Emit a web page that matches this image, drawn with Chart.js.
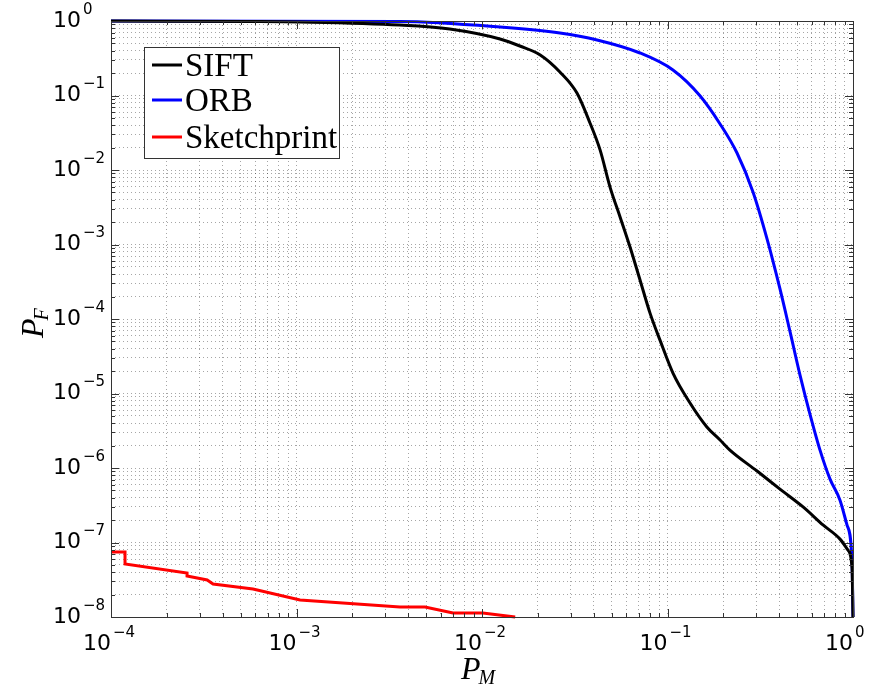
<!DOCTYPE html>
<html>
<head>
<meta charset="utf-8">
<script src="https://cdn.jsdelivr.net/npm/chart.js@4"></script>
<style>
  html, body { margin: 0; padding: 0; background: #fff; }
  #wrap { width: 896px; height: 692px; }
</style>
</head>
<body>
<div id="wrap"><canvas id="rocChart" width="896" height="692"></canvas></div>
<script>
// Axis decades (exponents of 10)
const xExponents = [-4, -3, -2, -1, 0];
const yExponents = [-8, -7, -6, -5, -4, -3, -2, -1, 0];

// Series names and colours
const seriesLabels = ["SIFT", "ORB", "Sketchprint"];
const seriesColors = ["#000000", "#0000ff", "#ff0000"];

// SIFT curve (P_M, P_F)
const siftX = [1e-4, 5.6e-4, 1.05e-3, 3.6e-3, 6.7e-3, 0.0125, 0.016, 0.0206, 0.0263, 0.0325, 0.0382, 0.0433, 0.049, 0.0555, 0.0628, 0.0711, 0.0805, 0.0911, 0.107, 0.132, 0.163, 0.192, 0.217, 0.304, 0.404, 0.538, 0.689, 0.851, 0.94, 0.988, 1.0];
const siftY = [1.0, 0.985, 0.97, 0.884, 0.78, 0.573, 0.462, 0.35, 0.207, 0.108, 0.0428, 0.0186, 5.9e-3, 2.34e-3, 9.25e-4, 3.34e-4, 1.2e-4, 5.2e-5, 1.88e-5, 7.5e-6, 3.55e-6, 2.38e-6, 1.74e-6, 9.1e-7, 5.2e-7, 3.0e-7, 1.72e-7, 1.11e-7, 7.9e-8, 4.55e-8, 1e-8];

// ORB curve
const orbX = [1e-4, 3.6e-3, 0.0125, 0.0263, 0.0417, 0.0711, 0.107, 0.15, 0.192, 0.237, 0.289, 0.344, 0.404, 0.458, 0.518, 0.586, 0.664, 0.752, 0.851, 0.928, 0.988, 1.0];
const orbY = [1.0, 0.985, 0.83, 0.69, 0.556, 0.372, 0.22, 0.0985, 0.0415, 0.0169, 5.07e-3, 1.19e-3, 2.53e-4, 6.7e-5, 1.77e-5, 5.3e-6, 1.74e-6, 7.1e-7, 3.7e-7, 1.72e-7, 5.6e-8, 1e-8];

// Sketchprint curve (stepped)
const sketchX = [1e-4, 1.19e-4, 1.19e-4, 2.57e-4, 2.57e-4, 3.3e-4, 3.55e-4, 5.83e-4, 1.045e-3, 3.61e-3, 4.93e-3, 6.98e-3, 0.0101, 0.0151];
const sketchY = [7.45e-8, 7.45e-8, 5.14e-8, 3.9e-8, 3.55e-8, 3.14e-8, 2.77e-8, 2.38e-8, 1.69e-8, 1.36e-8, 1.36e-8, 1.13e-8, 1.13e-8, 1e-8];

function toPoints(xs, ys) {
	let pts = [];
	for (let i = 0; i < xs.length; i++) {
		pts.push({ x: xs[i], y: ys[i] });
	}
	return pts;
}

// log ticks: 1..9 x 10^e for each decade, plus the last decade
function decadeTicks(exps) {
	let ticks = [];
	for (let i = 0; i < exps.length - 1; i++) {
		for (let m = 1; m <= 9; m++) {
			ticks.push({ value: m * Math.pow(10, exps[i]), major: m === 1 });
		}
	}
	ticks.push({ value: Math.pow(10, exps[exps.length - 1]), major: true });
	return ticks;
}

function expText(e) {
	return e < 0 ? "\u2212" + Math.abs(e) : String(e);
}

// Box, inward ticks, tick labels, legend and axis titles
const matlabLook = {
	id: "matlabLook",
	afterDraw(chart) {
		const ctx = chart.ctx;
		const area = chart.chartArea;
		const xs = chart.scales.x;
		const ys = chart.scales.y;
		ctx.save();

		// inward tick marks on all four sides
		ctx.strokeStyle = "#333";
		ctx.lineWidth = 1;
		ctx.beginPath();
		decadeTicks(xExponents).forEach(function (t) {
			let px = Math.round(xs.getPixelForValue(t.value)) + 0.5;
			let len = t.major ? 8 : 4;
			ctx.moveTo(px, area.bottom);
			ctx.lineTo(px, area.bottom - len);
			ctx.moveTo(px, area.top);
			ctx.lineTo(px, area.top + len);
		});
		decadeTicks(yExponents).forEach(function (t) {
			let py = Math.round(ys.getPixelForValue(t.value)) + 0.5;
			let len = t.major ? 8 : 4;
			ctx.moveTo(area.left, py);
			ctx.lineTo(area.left + len, py);
			ctx.moveTo(area.right, py);
			ctx.lineTo(area.right - len, py);
		});
		ctx.stroke();

		// box
		ctx.strokeStyle = "#333";
		ctx.strokeRect(Math.round(area.left) + 0.5, Math.round(area.top) + 0.5,
			Math.round(area.right - area.left), Math.round(area.bottom - area.top));

		// tick labels 10^e
		ctx.fillStyle = "#000";
		ctx.textBaseline = "middle";
		yExponents.forEach(function (e) {
			let py = ys.getPixelForValue(Math.pow(10, e));
			ctx.font = "22px 'DejaVu Sans'";
			ctx.textAlign = "left";
			ctx.fillText("10", 53, py);
			let w = ctx.measureText("10").width;
			ctx.font = "15px 'DejaVu Sans'";
			ctx.fillText(expText(e), 53 + w + 2, py - 11);
		});
		xExponents.forEach(function (e) {
			let px = xs.getPixelForValue(Math.pow(10, e));
			ctx.font = "22px 'DejaVu Sans'";
			ctx.textAlign = "right";
			ctx.fillText("10", px, area.bottom + 27);
			ctx.font = "15px 'DejaVu Sans'";
			ctx.textAlign = "left";
			ctx.fillText(expText(e), px + 2, area.bottom + 16);
		});

		// axis titles
		ctx.textAlign = "left";
		ctx.textBaseline = "alphabetic";
		ctx.font = "italic 32px 'Liberation Serif'";
		let pw = ctx.measureText("P").width;
		ctx.fillText("P", 461, 679);
		ctx.font = "italic 20px 'Liberation Serif'";
		ctx.fillText("M", 461 + pw - 2, 684);

		ctx.save();
		ctx.translate(43, 338);
		ctx.rotate(-Math.PI / 2);
		ctx.font = "italic 32px 'Liberation Serif'";
		ctx.fillText("P", 0, 0);
		ctx.font = "italic 20px 'Liberation Serif'";
		ctx.fillText("F", pw - 2, 5);
		ctx.restore();

		// legend
		const lx = 144, ly = 47, lw = 195, lh = 111;
		ctx.fillStyle = "#fff";
		ctx.fillRect(lx, ly, lw, lh);
		ctx.strokeStyle = "#333";
		ctx.strokeRect(lx + 0.5, ly + 0.5, lw, lh);
		const rowY = [65, 100, 137];
		ctx.font = "33px 'Liberation Serif'";
		ctx.textBaseline = "middle";
		chart.data.datasets.forEach(function (ds, i) {
			ctx.strokeStyle = ds.borderColor;
			ctx.lineWidth = 3;
			ctx.beginPath();
			ctx.moveTo(152, rowY[i]);
			ctx.lineTo(182, rowY[i]);
			ctx.stroke();
			ctx.fillStyle = "#000";
			ctx.fillText(ds.label, 185, rowY[i] + 2);
		});

		ctx.restore();
	},
};

const siftSet = {
	label: seriesLabels[0],
	data: toPoints(siftX, siftY),
	borderColor: seriesColors[0],
	cubicInterpolationMode: "monotone",
};
const orbSet = {
	label: seriesLabels[1],
	data: toPoints(orbX, orbY),
	borderColor: seriesColors[1],
	cubicInterpolationMode: "monotone",
};
const sketchSet = {
	label: seriesLabels[2],
	data: toPoints(sketchX, sketchY),
	borderColor: seriesColors[2],
};

function logAxis(exps) {
	return {
		type: "logarithmic",
		min: Math.pow(10, exps[0]),
		max: Math.pow(10, exps[exps.length - 1]),
		afterBuildTicks: function (scale) {
			scale.ticks = decadeTicks(exps);
		},
		ticks: { display: false },
		grid: {
			color: "rgba(0,0,0,0.35)",
			lineWidth: 1,
			drawTicks: false,
		},
		border: { display: false, dash: [1, 3] },
	};
}

new Chart(document.getElementById("rocChart"), {
	type: "scatter",
	data: { datasets: [siftSet, orbSet, sketchSet] },
	options: {
		responsive: false,
		animation: false,
		showLine: true,
		layout: { padding: { left: 111, right: 43, top: 21, bottom: 75 } },
		elements: {
			point: { radius: 0 },
			line: { borderWidth: 3, fill: false },
		},
		datasets: { scatter: { clip: 3 } },
		scales: {
			x: logAxis(xExponents),
			y: logAxis(yExponents),
		},
		plugins: {
			legend: { display: false },
			tooltip: { enabled: false },
		},
	},
	plugins: [matlabLook],
});
</script>
</body>
</html>
